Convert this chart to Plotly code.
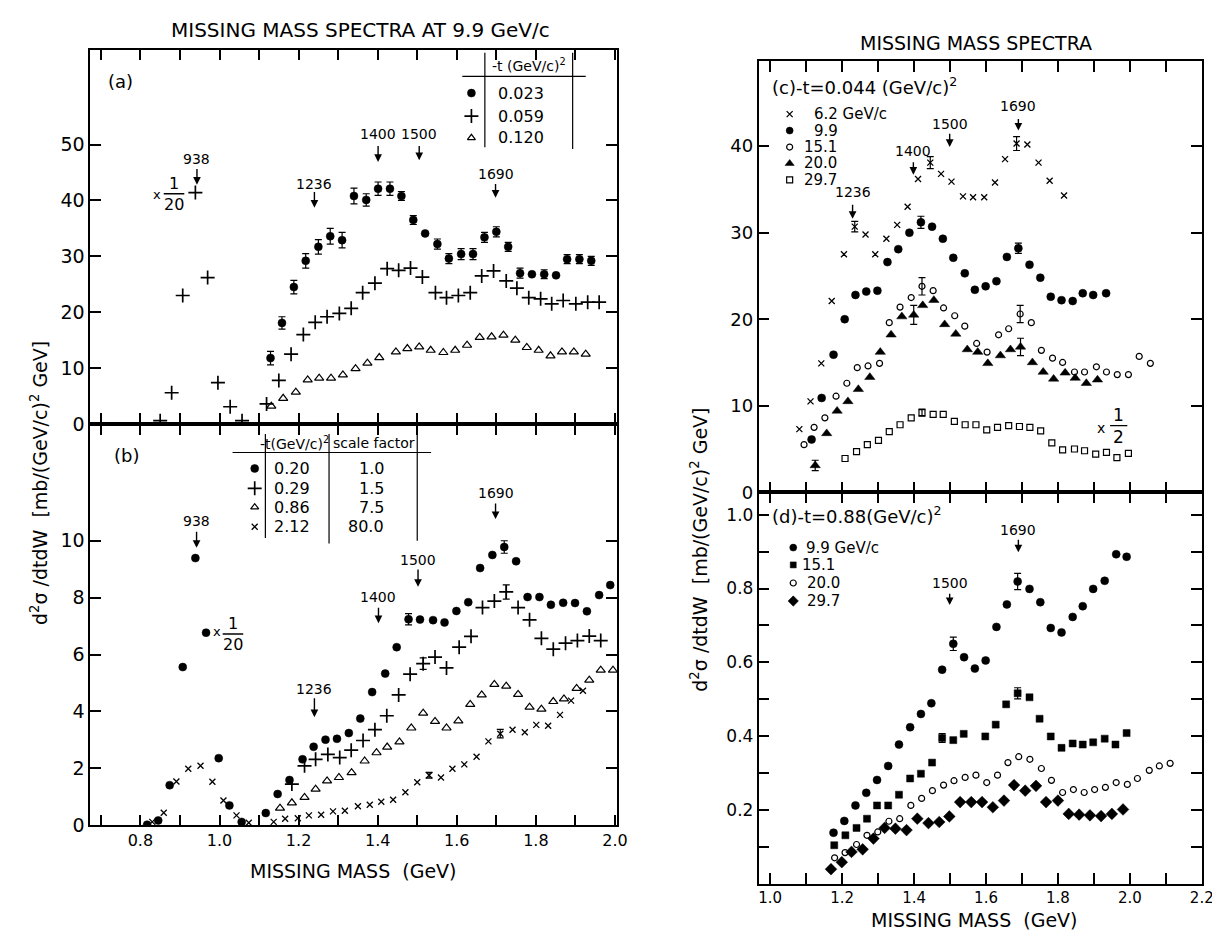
import plotly.graph_objects as go

# ---------------- DATA ----------------
a_mass_dot = [1.129,1.158,1.188,1.218,1.250,1.280,1.310,1.340,1.371,1.401,1.431,1.460,1.490,1.520,1.551,1.580,1.611,1.641,1.670,1.700,1.730,1.760,1.790,1.821,1.851,1.879,1.910,1.940]
a_val_dot = [11.8,18.1,24.5,29.2,31.7,33.6,32.9,40.8,40.1,42.1,42.1,40.8,36.5,34.1,32.2,29.6,30.4,30.4,33.4,34.4,31.7,27.0,26.8,26.8,26.6,29.5,29.5,29.2]
a_err_dot = [1.2,1.1,1.2,1.3,1.3,1.4,1.4,1.4,1.1,1.2,1.2,0.8,0.8,0,0.9,0.9,1.0,1.0,0.9,0.9,0.8,0.9,0,0.8,0,0.8,0.8,0.8]
a_mass_plus = [0.850,0.879,0.907,0.939,0.970,0.996,1.027,1.057,1.119,1.150,1.181,1.212,1.242,1.272,1.303,1.333,1.362,1.393,1.424,1.453,1.483,1.513,1.546,1.574,1.604,1.634,1.663,1.693,1.725,1.752,1.782,1.812,1.840,1.869,1.901,1.931,1.960]
a_val_plus = [0.6,5.6,23.0,41.4,26.2,7.4,3.1,0.6,3.6,7.8,12.5,16.0,18.2,19.2,19.8,20.7,23.5,25.2,27.8,27.5,27.9,26.3,23.5,22.6,23.0,23.5,26.5,27.4,25.6,24.3,22.6,22.4,21.5,22.1,21.5,21.8,21.8]
a_mass_tri = [1.131,1.161,1.193,1.223,1.252,1.282,1.312,1.344,1.374,1.404,1.446,1.475,1.505,1.534,1.566,1.596,1.626,1.658,1.688,1.718,1.748,1.777,1.807,1.837,1.866,1.896,1.926]
a_val_tri = [3.2,4.6,5.7,7.9,8.2,8.2,8.8,9.9,10.9,11.9,12.9,13.5,13.8,13.2,12.8,13.2,14.1,15.5,15.6,15.9,15.0,13.7,13.2,12.2,12.9,12.9,12.5]
a_legend_t = ["0.023", "0.059", "0.120"]

b_mass_dot = [0.817,0.845,0.874,0.907,0.939,0.966,0.998,1.025,1.056,1.117,1.147,1.177,1.210,1.238,1.268,1.297,1.327,1.356,1.386,1.419,1.448,1.478,1.507,1.540,1.569,1.599,1.629,1.659,1.690,1.720,1.750,1.779,1.809,1.838,1.869,1.899,1.929,1.960,1.988]
b_val_dot = [0.02,0.17,1.41,5.56,9.39,6.77,2.36,0.70,0.12,0.43,1.10,1.59,2.32,2.76,3.01,3.04,3.24,3.75,4.68,5.33,6.26,7.24,7.23,7.21,7.13,7.53,7.84,9.04,9.50,9.78,9.28,8.02,8.02,7.75,7.82,7.81,7.52,8.09,8.44]
b_err_dot = {21: 0.20, 29: 0.22}
b_mass_plus = [1.183,1.215,1.243,1.274,1.304,1.333,1.363,1.393,1.423,1.453,1.482,1.515,1.545,1.574,1.606,1.636,1.665,1.695,1.725,1.755,1.784,1.814,1.844,1.875,1.905,1.935,1.964]
b_val_plus = [1.45,2.09,2.32,2.49,2.38,2.64,2.98,3.36,3.85,4.58,5.31,5.68,5.91,5.53,6.26,6.64,7.65,7.88,8.20,7.65,7.22,6.57,6.19,6.40,6.49,6.65,6.49]
b_err_plus = {11: 0.20, 18: 0.25}
b_mass_tri = [1.153,1.183,1.215,1.243,1.272,1.302,1.334,1.367,1.397,1.424,1.455,1.485,1.515,1.545,1.574,1.604,1.634,1.663,1.695,1.725,1.755,1.784,1.814,1.844,1.871,1.903,1.935,1.964,1.995]
b_val_tri = [0.60,0.79,0.98,1.27,1.56,1.68,1.85,2.26,2.55,2.75,2.93,3.42,3.94,3.65,3.42,3.67,4.25,4.58,4.95,4.89,4.60,4.15,4.08,4.35,4.44,4.81,5.10,5.45,5.45]
b_mass_x = [0.830,0.859,0.891,0.921,0.952,0.982,1.010,1.043,1.074,1.137,1.166,1.198,1.226,1.257,1.287,1.317,1.350,1.380,1.409,1.439,1.470,1.500,1.530,1.560,1.589,1.619,1.650,1.680,1.710,1.741,1.772,1.801,1.831,1.861,1.889,1.919]
b_val_x = [0.12,0.44,1.54,1.99,2.09,1.53,0.87,0.35,0.09,0.12,0.23,0.25,0.35,0.37,0.49,0.51,0.67,0.72,0.83,0.90,1.16,1.51,1.76,1.68,1.99,2.14,2.41,2.95,3.22,3.36,3.27,3.53,3.50,3.88,4.38,4.73]
b_err_x = {22: 0.10, 28: 0.15}
b_legend_t = ["0.20", "0.29", "0.86", "2.12"]
b_legend_scale = ["1.0", "1.5", "7.5", "80.0"]

c_mass_62 = [1.081,1.112,1.142,1.171,1.205,1.235,1.265,1.292,1.323,1.353,1.382,1.411,1.445,1.475,1.504,1.536,1.564,1.595,1.625,1.653,1.685,1.715,1.746,1.777,1.817]
c_val_62 = [7.3,10.5,14.9,22.1,27.5,30.7,29.8,27.5,29.3,30.9,33.0,36.2,38.1,36.8,35.9,34.2,34.1,34.1,35.8,38.5,40.3,40.2,38.1,36.0,34.3]
c_err_62 = {5: 0.6, 12: 0.7, 20: 0.8}
c_mass_99 = [1.115,1.143,1.176,1.207,1.237,1.267,1.298,1.326,1.356,1.387,1.419,1.450,1.480,1.509,1.541,1.569,1.599,1.629,1.658,1.690,1.721,1.751,1.780,1.810,1.841,1.869,1.898,1.934]
c_val_99 = [6.1,10.9,15.9,20.0,22.8,23.2,23.3,26.6,28.1,30.0,31.2,30.7,29.3,27.1,25.3,23.4,23.8,24.4,27.2,28.2,26.3,24.8,22.6,22.2,22.1,23.0,22.8,23.0]
c_err_99 = {10: 0.7, 19: 0.6}
c_mass_151 = [1.094,1.122,1.152,1.183,1.213,1.242,1.272,1.304,1.331,1.361,1.392,1.422,1.453,1.482,1.513,1.541,1.574,1.603,1.635,1.663,1.695,1.726,1.754,1.785,1.813,1.846,1.874,1.907,1.935,1.965,1.996,2.026,2.057]
c_val_151 = [5.5,7.5,8.6,11.1,12.6,14.4,14.6,14.9,19.6,21.4,22.5,23.8,23.3,21.3,20.4,19.2,17.2,16.2,18.2,18.9,20.6,19.6,16.4,15.5,15.0,13.9,13.9,14.5,13.9,13.6,13.6,15.7,14.9]
c_err_151 = {11: 1.0, 20: 1.0}
c_mass_200 = [1.125,1.157,1.186,1.216,1.245,1.277,1.306,1.336,1.366,1.399,1.424,1.455,1.485,1.516,1.548,1.577,1.605,1.640,1.668,1.696,1.729,1.759,1.788,1.820,1.848,1.879,1.910]
c_val_200 = [3.1,6.8,9.4,10.5,11.9,13.3,16.2,18.2,20.3,20.5,21.6,22.2,19.4,18.3,16.5,16.2,14.9,15.8,16.5,16.8,15.0,13.9,13.1,13.8,13.2,12.6,13.0]
c_err_200 = {0: 0.6, 9: 1.1, 19: 1.0}
c_mass_297 = [1.208,1.240,1.270,1.301,1.331,1.361,1.392,1.422,1.453,1.481,1.512,1.542,1.572,1.602,1.632,1.663,1.693,1.722,1.752,1.783,1.813,1.846,1.874,1.905,1.935,1.964,1.996]
c_val_297 = [3.9,4.7,5.5,6.0,7.0,7.8,8.6,9.2,9.0,9.0,8.2,7.8,7.8,7.2,7.5,7.7,7.6,7.5,7.1,5.7,4.9,5.0,4.8,4.4,4.6,4.0,4.5]
c_err_297 = {7: 0.4}
c_legend = ["6.2 GeV/c", "9.9", "15.1", "20.0", "29.7"]

d_mass_99 = [1.176,1.206,1.237,1.267,1.297,1.328,1.358,1.389,1.419,1.448,1.478,1.509,1.539,1.569,1.599,1.629,1.658,1.688,1.721,1.751,1.780,1.810,1.841,1.869,1.898,1.930,1.962,1.991]
d_val_99 = [0.138,0.170,0.212,0.246,0.281,0.319,0.377,0.424,0.460,0.489,0.580,0.650,0.614,0.583,0.605,0.696,0.757,0.819,0.799,0.763,0.693,0.681,0.723,0.752,0.799,0.821,0.893,0.886]
d_err_99 = {11: 0.018, 17: 0.022}
d_mass_151 = [1.178,1.209,1.240,1.269,1.297,1.328,1.358,1.389,1.419,1.450,1.478,1.509,1.538,1.598,1.627,1.656,1.688,1.721,1.749,1.780,1.810,1.841,1.869,1.898,1.930,1.960,1.991]
d_val_151 = [0.104,0.131,0.151,0.176,0.212,0.212,0.241,0.285,0.298,0.328,0.395,0.389,0.406,0.399,0.431,0.486,0.516,0.505,0.447,0.399,0.368,0.380,0.377,0.383,0.393,0.377,0.408]
d_err_151 = {10: 0.012, 16: 0.015}
d_mass_200 = [1.179,1.208,1.240,1.269,1.299,1.330,1.360,1.391,1.421,1.451,1.482,1.511,1.542,1.572,1.602,1.632,1.661,1.691,1.722,1.754,1.782,1.813,1.843,1.873,1.902,1.932,1.962,1.993,2.021,2.054,2.082,2.112]
d_val_200 = [0.070,0.084,0.106,0.131,0.140,0.169,0.176,0.212,0.231,0.252,0.267,0.279,0.288,0.294,0.274,0.294,0.328,0.344,0.337,0.312,0.280,0.247,0.255,0.247,0.255,0.261,0.274,0.269,0.285,0.307,0.319,0.326]
d_mass_297 = [1.169,1.199,1.226,1.257,1.287,1.318,1.348,1.379,1.409,1.440,1.470,1.498,1.528,1.559,1.589,1.619,1.650,1.678,1.709,1.739,1.767,1.800,1.830,1.859,1.889,1.920,1.950,1.981]
d_val_297 = [0.039,0.058,0.086,0.093,0.122,0.151,0.149,0.145,0.176,0.164,0.167,0.182,0.221,0.221,0.221,0.207,0.225,0.267,0.252,0.265,0.221,0.225,0.189,0.187,0.185,0.183,0.189,0.201]
d_legend = ["9.9 GeV/c", "15.1", "20.0", "29.7"]

left_x_ticks = [round(0.7 + 0.1 * i, 1) for i in range(14)]
right_x_ticks = [round(1.0 + 0.1 * i, 1) for i in range(13)]
a_y_ticks = [0, 10, 20, 30, 40, 50]
b_y_ticks = [0, 2, 4, 6, 8, 10]
c_y_ticks = [0, 10, 20, 30, 40]
d_y_ticks = [round(0.1 * i, 1) for i in range(1, 11)]

# ---------------- FIGURE ----------------
W, H = 1220, 938
FONT = "DejaVu Sans"
BLK = "black"


def px(x, y):
    return x / W, 1 - y / H


AX = {"a": ("x", "y"), "b": ("x2", "y2"), "c": ("x3", "y3"), "d": ("x4", "y4")}
fig = go.Figure()


def add_series(p, xs, ys, symbol, size, lw=1.2, errs=None):
    xa, ya = AX[p]
    fig.add_trace(go.Scatter(x=xs, y=ys, mode="markers", xaxis=xa, yaxis=ya,
                             showlegend=False, hoverinfo="skip",
                             marker=dict(symbol=symbol, size=size, color=BLK,
                                         line=dict(color=BLK, width=lw))))
    if errs:
        if isinstance(errs, list):
            errs = {i: e for i, e in enumerate(errs) if e > 0}
        idx = sorted(errs)
        fig.add_trace(go.Scatter(x=[xs[i] for i in idx], y=[ys[i] for i in idx],
                                 mode="markers", xaxis=xa, yaxis=ya, showlegend=False,
                                 hoverinfo="skip",
                                 marker=dict(size=1, color="rgba(0,0,0,0)"),
                                 error_y=dict(type="data", array=[errs[i] for i in idx],
                                              color=BLK, thickness=1.2, width=3.5)))


def txt(p, x, y, s, size=14, xanchor="center", yanchor="middle", yshift=0):
    xa, ya = AX[p]
    fig.add_annotation(xref=xa, yref=ya, x=x, y=y, text=s, showarrow=False,
                       xanchor=xanchor, yanchor=yanchor, yshift=yshift,
                       font=dict(family=FONT, size=size, color=BLK))


def arrow(p, x, y0, y1):
    xa, ya = AX[p]
    fig.add_annotation(xref=xa, yref=ya, axref=xa, ayref=ya, x=x, y=y1, ax=x, ay=y0,
                       text="", showarrow=True, arrowhead=2, arrowsize=1.1,
                       arrowwidth=1.4, arrowcolor=BLK)


def line(p, x0, y0, x1, y1, w=1.2):
    xa, ya = AX[p]
    fig.add_shape(type="line", xref=xa, yref=ya, x0=x0, y0=y0, x1=x1, y1=y1,
                  line=dict(color=BLK, width=w))


def frac(p, xx, xy, xc, ybar, hw, num, den, size=16):
    txt(p, xx, xy, "x", size=size - 3)
    line(p, xc - hw, ybar, xc + hw, ybar, 1.4)
    txt(p, xc, ybar, num, size=size, yanchor="bottom", yshift=-1)
    txt(p, xc, ybar, den, size=size, yanchor="top", yshift=1)


def resonance(p, x, label, ytext, y0, y1, size=14):
    txt(p, x, ytext, label, size=size)
    arrow(p, x, y0, y1)


def key(p, x, y, sym, sz, lw):
    xa, ya = AX[p]
    fig.add_trace(go.Scatter(x=[x], y=[y], mode="markers", xaxis=xa, yaxis=ya, showlegend=False,
                             hoverinfo="skip",
                             marker=dict(symbol=sym, size=sz, color=BLK, line=dict(color=BLK, width=lw))))


# ---- series ----
add_series("a", a_mass_dot, a_val_dot, "circle", 8, 0.5, a_err_dot)
add_series("a", a_mass_plus, a_val_plus, "cross-thin", 10, 1.7)
add_series("a", a_mass_tri, a_val_tri, "triangle-up-open", 8, 1.2)

add_series("b", b_mass_dot, b_val_dot, "circle", 8, 0.5, b_err_dot)
add_series("b", b_mass_plus, b_val_plus, "cross-thin", 10, 1.7, b_err_plus)
add_series("b", b_mass_tri, b_val_tri, "triangle-up-open", 8, 1.2)
add_series("b", b_mass_x, b_val_x, "x-thin", 6, 1.3, b_err_x)

add_series("c", c_mass_62, c_val_62, "x-thin", 6, 1.3, c_err_62)
add_series("c", c_mass_99, c_val_99, "circle", 8, 0.5, c_err_99)
add_series("c", c_mass_151, c_val_151, "circle-open", 6, 1.2, c_err_151)
add_series("c", c_mass_200, c_val_200, "triangle-up", 9, 0.5, c_err_200)
add_series("c", c_mass_297, c_val_297, "square-open", 6, 1.2, c_err_297)

add_series("d", d_mass_99, d_val_99, "circle", 8, 0.5, d_err_99)
add_series("d", d_mass_151, d_val_151, "square", 7, 0.5, d_err_151)
add_series("d", d_mass_200, d_val_200, "circle-open", 6, 1.2)
add_series("d", d_mass_297, d_val_297, "diamond", 9, 0.5)

# ---- legend tables / keys ----
line("a", 1.671, 49.5, 1.671, 66.4)
line("a", 1.893, 49.2, 1.893, 66.4)
line("a", 1.614, 62.2, 1.926, 62.2)
txt("a", 1.782, 64.2, "-t (GeV/c)<sup>2</sup>", size=14)
for k, (sym, sz, lw) in enumerate([("circle", 8, 0.5), ("cross-thin", 10, 1.7), ("triangle-up-open", 7, 1.2)]):
    yy = [59.2, 55.1, 51.2][k]
    key("a", 1.637, yy, sym, sz, lw)
    txt("a", 1.700, yy, a_legend_t[k], size=16, xanchor="left")

line("b", 1.033, 13.1, 1.535, 13.1)
line("b", 1.116, 10.1, 1.116, 13.75)
line("b", 1.277, 9.9, 1.277, 13.75)
line("b", 1.500, 10.0, 1.500, 13.75)
txt("b", 1.190, 13.45, "-t(GeV/c)<sup>2</sup>", size=14)
txt("b", 1.390, 13.45, "scale factor", size=14)
for k, (sym, sz, lw) in enumerate([("circle", 8, 0.5), ("cross-thin", 10, 1.7), ("triangle-up-open", 7, 1.2), ("x-thin", 6, 1.3)]):
    yy = [12.54, 11.84, 11.18, 10.49][k]
    key("b", 1.089, yy, sym, sz, lw)
    txt("b", 1.132, yy, b_legend_t[k], size=16, xanchor="left")
    txt("b", 1.420, yy, b_legend_scale[k], size=16, xanchor="right")

c_keys = [("x-thin", 6, 1.3), ("circle", 7, 0.5), ("circle-open", 6, 1.2), ("triangle-up", 8, 0.5), ("square-open", 6, 1.2)]
c_rows = [43.7, 41.8, 39.9, 38.0, 36.1]
c_text_x = [1.117, 1.117, 1.089, 1.089, 1.089]
for k, (sym, sz, lw) in enumerate(c_keys):
    key("c", 1.054, c_rows[k], sym, sz, lw)
    txt("c", c_text_x[k], c_rows[k], c_legend[k], size=15, xanchor="left")

d_keys = [("circle", 7, 0.5), ("square", 6, 0.5), ("circle-open", 6, 1.2), ("diamond", 8, 0.5)]
d_rows = [0.911, 0.864, 0.815, 0.766]
d_text_x = [1.094, 1.084, 1.096, 1.096]
for k, (sym, sz, lw) in enumerate(d_keys):
    key("d", 1.064, d_rows[k], sym, sz, lw)
    txt("d", d_text_x[k], d_rows[k], d_legend[k], size=15, xanchor="left")

# ---- panel labels & resonance markers ----
txt("a", 0.713, 61.2, "(a)", size=18, xanchor="left")
resonance("a", 0.943, "938", 47.4, 45.9, 42.8)
resonance("a", 1.240, "1236", 42.9, 41.8, 38.7)
resonance("a", 1.401, "1400", 51.8, 50.0, 46.9)
resonance("a", 1.505, "1500", 51.8, 50.0, 47.2)
resonance("a", 1.698, "1690", 44.7, 43.2, 40.5)
frac("a", 0.842, 41.0, 0.885, 41.2, 0.026, "1", "20")

txt("b", 0.728, 12.98, "(b)", size=18, xanchor="left")
resonance("b", 0.942, "938", 10.68, 10.37, 9.75)
resonance("b", 1.240, "1236", 4.80, 4.52, 3.80)
resonance("b", 1.402, "1400", 8.02, 7.70, 7.10)
resonance("b", 1.502, "1500", 9.33, 9.04, 8.38)
resonance("b", 1.698, "1690", 11.67, 11.36, 10.76)
frac("b", 0.993, 6.80, 1.034, 6.72, 0.026, "1", "20")

txt("c", 0.998, 46.9, "(c)-t=0.044 (GeV/c)<sup>2</sup>", size=18, xanchor="left")
resonance("c", 1.229, "1236", 34.7, 33.4, 31.6)
resonance("c", 1.398, "1400", 39.4, 38.3, 36.7)
resonance("c", 1.499, "1500", 42.6, 41.6, 39.9)
resonance("c", 1.690, "1690", 44.6, 43.3, 41.8)
frac("c", 1.920, 7.4, 1.969, 7.7, 0.024, "1", "2", size=17)

txt("d", 0.998, 0.998, "(d)-t=0.88(GeV/c)<sup>2</sup>", size=18, xanchor="left")
resonance("d", 1.499, "1500", 0.815, 0.790, 0.755)
resonance("d", 1.690, "1690", 0.960, 0.936, 0.898)


# ---- titles ----
def ptxt(xp, yp, s, size, angle=0):
    x, y = px(xp, yp)
    fig.add_annotation(xref="paper", yref="paper", x=x, y=y, text=s, showarrow=False,
                       xanchor="center", yanchor="middle", textangle=angle,
                       font=dict(family=FONT, size=size, color=BLK))

ptxt(356, 22, "MISSING MASS SPECTRA AT 9.9 GeV/c", 20)
ptxt(978, 35, "MISSING MASS SPECTRA", 19)
ptxt(349, 873, "MISSING MASS  (GeV)", 19)
ptxt(976, 923, "MISSING MASS  (GeV)", 19)
ytitle = "d<sup>2</sup>σ /dtdW  [mb/(GeV/c)<sup>2</sup> GeV]"
ptxt(32, 481, ytitle, 19, -90)
ptxt(697, 548, ytitle, 19, -90)

# ---- axes ----
common = dict(showline=True, linecolor=BLK, linewidth=1.5, mirror="ticks", ticks="inside",
              ticklen=11, tickwidth=1.5, tickcolor=BLK, showgrid=False, zeroline=False,
              tickfont=dict(family=FONT, size=16, color=BLK))

LX = [83 / W, 615 / W]
RX = [758 / W, 1206 / W]

left_lab = [("%.1f" % v) if round(v * 10) % 2 == 0 else "" for v in left_x_ticks]
right_lab = [("%.1f" % v) if round(v * 10) % 2 == 0 else "" for v in right_x_ticks]
d_lab = [("%.1f" % v) if round(v * 10) % 2 == 0 else "" for v in d_y_ticks]

fig.update_layout(
    width=W, height=H, margin=dict(l=0, r=0, t=0, b=0),
    paper_bgcolor="white", plot_bgcolor="white", showlegend=False,
    xaxis=dict(common, domain=LX, range=[0.673, 2.005], anchor="y",
               tickvals=left_x_ticks, showticklabels=False),
    yaxis=dict(common, domain=[1 - 421 / H, 1 - 42 / H], range=[0, 67], anchor="x",
               tickvals=a_y_ticks, tickfont=dict(family=FONT, size=19, color=BLK)),
    xaxis2=dict(common, domain=LX, range=[0.673, 2.005], anchor="y2",
                tickvals=left_x_ticks, ticktext=left_lab, tickfont=dict(family=FONT, size=16, color=BLK)),
    yaxis2=dict(common, domain=[1 - 827 / H, 1 - 421 / H], range=[0, 14.1], anchor="x2",
                tickvals=b_y_ticks, tickfont=dict(family=FONT, size=19, color=BLK)),
    xaxis3=dict(common, domain=RX, range=[0.9675, 2.201], anchor="y3",
                tickvals=right_x_ticks, showticklabels=False),
    yaxis3=dict(common, domain=[1 - 490 / H, 1 - 54 / H], range=[0, 49.8], anchor="x3",
                tickvals=c_y_ticks, tickfont=dict(family=FONT, size=18, color=BLK)),
    xaxis4=dict(common, domain=RX, range=[0.9675, 2.201], anchor="y4",
                tickvals=right_x_ticks, ticktext=right_lab, tickfont=dict(family=FONT, size=15, color=BLK)),
    yaxis4=dict(common, domain=[1 - 886 / H, 1 - 490 / H], range=[0, 1.061], anchor="x4",
                tickvals=d_y_ticks, ticktext=d_lab, tickfont=dict(family=FONT, size=17, color=BLK)),
)

fig.write_html("out.html")
